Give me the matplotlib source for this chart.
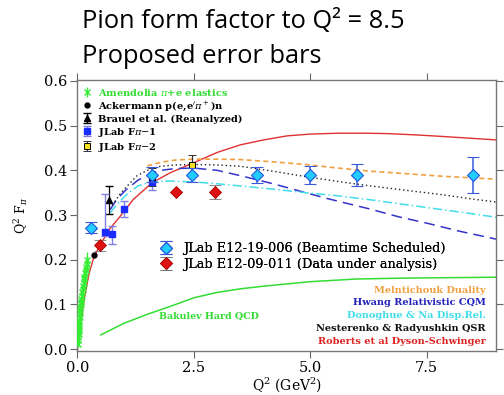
import matplotlib
matplotlib.use("Agg")
import matplotlib.pyplot as plt
from matplotlib.ticker import FormatStrFormatter
from matplotlib.font_manager import FontProperties

plt.rcParams["mathtext.fontset"] = "dejavuserif"

# Amendolia pi+e elastic scattering
amend_q2 = [0.010, 0.015, 0.018, 0.022, 0.026, 0.030, 0.034, 0.038, 0.042, 0.047,
            0.052, 0.058, 0.064, 0.070, 0.077, 0.084, 0.092, 0.100, 0.110, 0.120,
            0.130, 0.140, 0.150, 0.162, 0.175, 0.188, 0.200, 0.215]
amend_v = [0.012, 0.020, 0.027, 0.034, 0.041, 0.048, 0.054, 0.061, 0.066, 0.073,
           0.080, 0.087, 0.094, 0.100, 0.106, 0.113, 0.119, 0.127, 0.134, 0.142,
           0.148, 0.156, 0.162, 0.170, 0.177, 0.184, 0.191, 0.199]
amend_err = [0.008, 0.009, 0.009, 0.010, 0.010, 0.011, 0.011, 0.011, 0.012, 0.012,
             0.012, 0.013, 0.013, 0.013, 0.014, 0.014, 0.014, 0.015, 0.015, 0.015,
             0.016, 0.016, 0.016, 0.017, 0.017, 0.017, 0.018, 0.018]

# Ackermann p(e,e'pi+)n
ack_q2 = [0.35]
ack_v = [0.211]

# Brauel et al. (reanalyzed)
brauel_q2 = [0.68]
brauel_v = [0.334]
brauel_err = [0.031]

# JLab Fpi-1 (asymmetric errors)
fpi1_q2 = [0.60, 0.75, 1.00, 1.60]
fpi1_v = [0.263, 0.257, 0.313, 0.374]
fpi1_lo = [0.010, 0.022, 0.017, 0.018]
fpi1_hi = [0.083, 0.018, 0.018, 0.020]

# JLab Fpi-2
fpi2_q2 = [1.60, 2.45]
fpi2_v = [0.385, 0.413]
fpi2_err = [0.020, 0.022]

# JLab E12-19-006 projected points
e1219_q2 = [0.30, 1.60, 2.45, 3.85, 5.00, 6.00, 8.50]
e1219_v = [0.272, 0.390, 0.390, 0.390, 0.390, 0.390, 0.390]
e1219_err = [0.013, 0.017, 0.016, 0.018, 0.020, 0.024, 0.040]

# JLab E12-09-011
e1209_q2 = [0.48, 2.12, 2.95]
e1209_v = [0.232, 0.351, 0.351]
e1209_err = [0.013, 0.0, 0.016]

# theory curves
roberts_q2 = [0.0, 0.05, 0.15, 0.25, 0.35, 0.48, 0.70, 0.90, 1.20, 1.60, 2.00, 2.50,
              3.00, 3.50, 4.00, 4.50, 5.00, 5.60, 6.20, 6.70, 7.30, 7.80, 8.40, 9.00]
roberts_v = [0.0, 0.045, 0.115, 0.170, 0.205, 0.232, 0.270, 0.295, 0.335, 0.372,
             0.395, 0.417, 0.440, 0.457, 0.468, 0.477, 0.481, 0.483, 0.483, 0.482,
             0.479, 0.476, 0.472, 0.468]

meln_q2 = [1.50, 1.80, 2.10, 2.50, 3.00, 3.50, 4.20, 4.90, 5.60, 6.30, 7.00, 7.80, 8.50, 9.00]
meln_v = [0.410, 0.418, 0.423, 0.425, 0.425, 0.424, 0.419, 0.413, 0.405, 0.398,
          0.393, 0.387, 0.383, 0.380]

hwang_q2 = [0.70, 0.85, 1.05, 1.30, 1.60, 1.80, 2.10, 2.50, 3.00, 3.50, 4.20, 4.90,
            5.40, 6.30, 6.90, 7.50, 8.20, 9.00]
hwang_v = [0.312, 0.336, 0.357, 0.378, 0.394, 0.400, 0.404, 0.405, 0.400, 0.388,
           0.370, 0.350, 0.336, 0.313, 0.296, 0.282, 0.264, 0.246]

donog_q2 = [0.70, 0.90, 1.10, 1.30, 1.60, 2.00, 2.50, 3.00, 3.50, 4.20, 4.90, 5.60,
            6.30, 7.00, 7.70, 8.40, 9.00]
donog_v = [0.305, 0.330, 0.350, 0.365, 0.375, 0.376, 0.374, 0.370, 0.365, 0.358,
           0.350, 0.343, 0.334, 0.324, 0.314, 0.304, 0.295]

nest_q2 = [0.75, 0.90, 1.05, 1.28, 1.50, 1.78, 2.10, 2.50, 3.00, 3.50, 4.20, 4.90,
           5.60, 6.30, 7.00, 7.80, 8.40, 9.00]
nest_v = [0.322, 0.345, 0.363, 0.388, 0.400, 0.409, 0.412, 0.413, 0.412, 0.409,
          0.398, 0.386, 0.375, 0.365, 0.356, 0.346, 0.337, 0.329]

bakulev_q2 = [0.50, 1.00, 1.50, 2.00, 2.50, 3.00, 3.50, 4.00, 5.00, 6.00, 7.00, 8.00, 9.00]
bakulev_v = [0.032, 0.058, 0.078, 0.096, 0.115, 0.127, 0.135, 0.141, 0.151, 0.157,
             0.159, 0.160, 0.161]

theory_labels = ["Melntichouk Duality", "Hwang Relativistic CQM", "Donoghue & Na Disp.Rel.",
                 "Nesterenko & Radyushkin QSR", "Roberts et al Dyson-Schwinger"]
theory_colors = ["#f0a040", "#2222bb", "#40dde8", "#111111", "#dd2222"]

serif = "DejaVu Serif"

fig = plt.figure(figsize=(5.04, 3.95), dpi=100)
ax = fig.add_axes([0.1528, 0.1114, 0.8322, 0.6861])

# theory curves
ax.plot(roberts_q2, roberts_v, color="#e03030", lw=1.0, zorder=2)
ax.plot(meln_q2, meln_v, color="#f0a040", lw=1.2, ls=(0, (3, 2)), zorder=2)
ax.plot(hwang_q2, hwang_v, color="#3333cc", lw=1.1, ls=(0, (7, 4)), zorder=2)
ax.plot(donog_q2, donog_v, color="#40dde8", lw=1.1, ls=(0, (6, 2, 1, 2)), zorder=2)
ax.plot(nest_q2, nest_v, color="#222222", lw=1.0, ls=(0, (1, 2)), zorder=2)
ax.plot(bakulev_q2, bakulev_v, color="#33dd33", lw=1.1, zorder=2)

# data
h_amend = ax.errorbar(amend_q2, amend_v, yerr=amend_err, fmt="x", color="#33ee33",
                      ms=5, mew=1.0, elinewidth=1.0, capsize=0, zorder=3)
h_ack = ax.plot(ack_q2, ack_v, "o", color="black", ms=3.5, zorder=4)[0]
h_brauel = ax.errorbar(brauel_q2, brauel_v, yerr=brauel_err, fmt="^", color="black",
                       ms=4.5, elinewidth=0.9, capsize=3, zorder=4)
h_fpi1 = ax.errorbar(fpi1_q2, fpi1_v, yerr=[fpi1_lo, fpi1_hi], fmt="s", color="#1a2cff",
                     ecolor="#8080e0", ms=4.5, elinewidth=1.0, capsize=3, zorder=4)
h_fpi2 = ax.errorbar(fpi2_q2, fpi2_v, yerr=fpi2_err, fmt="s", mfc="#f5e020", mec="black",
                     ecolor="#333333", ms=5, mew=0.7, elinewidth=0.9, capsize=3, zorder=4)
h_e1219 = ax.errorbar(e1219_q2, e1219_v, yerr=e1219_err, fmt="D", mfc="#22ccff",
                      mec="#2255dd", ecolor="#3a5ad8", ms=6.5, mew=0.8, elinewidth=1.1,
                      capsize=4, capthick=1.1, zorder=5)
h_e1209 = ax.errorbar(e1209_q2, e1209_v, yerr=e1209_err, fmt="D", mfc="#dd1111",
                      mec="#aa0000", ecolor="#777777", ms=6.5, mew=0.6, elinewidth=1.0,
                      capsize=4, zorder=5)

ax.set_xlim(-0.01, 9.0)
ax.set_ylim(-0.004, 0.602)
ax.set_xticks([0.0, 2.5, 5.0, 7.5])
ax.set_yticks([0.0, 0.1, 0.2, 0.3, 0.4, 0.5, 0.6])
ax.xaxis.set_major_formatter(FormatStrFormatter("%.1f"))
ax.yaxis.set_major_formatter(FormatStrFormatter("%.1f"))
ax.tick_params(direction="out", length=5, width=0.8, color="#666666",
               top=True, right=True, labelsize=10.5, pad=2)
for lab in ax.get_xticklabels() + ax.get_yticklabels():
    lab.set_family(serif)
for sp in ax.spines.values():
    sp.set_color("#777777")
    sp.set_linewidth(1.0)

ax.set_xlabel(r"Q$^2$ (GeV$^2$)", family=serif, fontsize=10, labelpad=0)
ax.set_ylabel(r"Q$^2$ F$_\pi$", family=serif, fontsize=9, labelpad=10)

# experiment legend, top left
leg1 = ax.legend([h_amend, h_ack, h_brauel, h_fpi1, h_fpi2],
                 [r"Amendolia $\pi$+e elastics", r"Ackermann p(e,e$'\pi^+$)n",
                  "Brauel et al. (Reanalyzed)", r"JLab F$\pi$$-$1", r"JLab F$\pi$$-$2"],
                 loc="upper left", bbox_to_anchor=(-0.005, 1.005), frameon=False,
                 prop=FontProperties(family=serif, size=7.1, weight="bold"),
                 handlelength=0.9, handletextpad=0.6, labelspacing=0.2,
                 borderaxespad=0.4, labelcolor=["#33dd33", "black", "black", "black", "black"])
ax.add_artist(leg1)

# projected data legend
leg2 = ax.legend([h_e1219, h_e1209],
                 ["JLab E12-19-006 (Beamtime Scheduled)", "JLab E12-09-011 (Data under analysis)"],
                 loc="upper left", bbox_to_anchor=(0.165, 0.445), frameon=False,
                 prop=FontProperties(family=serif, size=9.3), handlelength=1.2,
                 handletextpad=0.75, labelspacing=0.2)
ax.add_artist(leg2)

# theory labels, bottom right
for i, (lab, col) in enumerate(zip(theory_labels, theory_colors)):
    ax.text(0.975, 0.225 - i * 0.0475, lab, transform=ax.transAxes, ha="right",
            va="center", color=col, family=serif, fontsize=7.0, weight="bold")
ax.text(1.75, 0.074, "Bakulev Hard QCD", color="#33dd33", family=serif, fontsize=6.8,
        weight="bold", va="center")

fig.text(0.162, 0.9284, "Pion form factor to Q² = 8.5", family="Open Sans", fontsize=18.3,
         va="baseline")
fig.text(0.162, 0.8397, "Proposed error bars", family="Open Sans", fontsize=18.3,
         va="baseline")

fig.savefig("out.png", dpi=100)
